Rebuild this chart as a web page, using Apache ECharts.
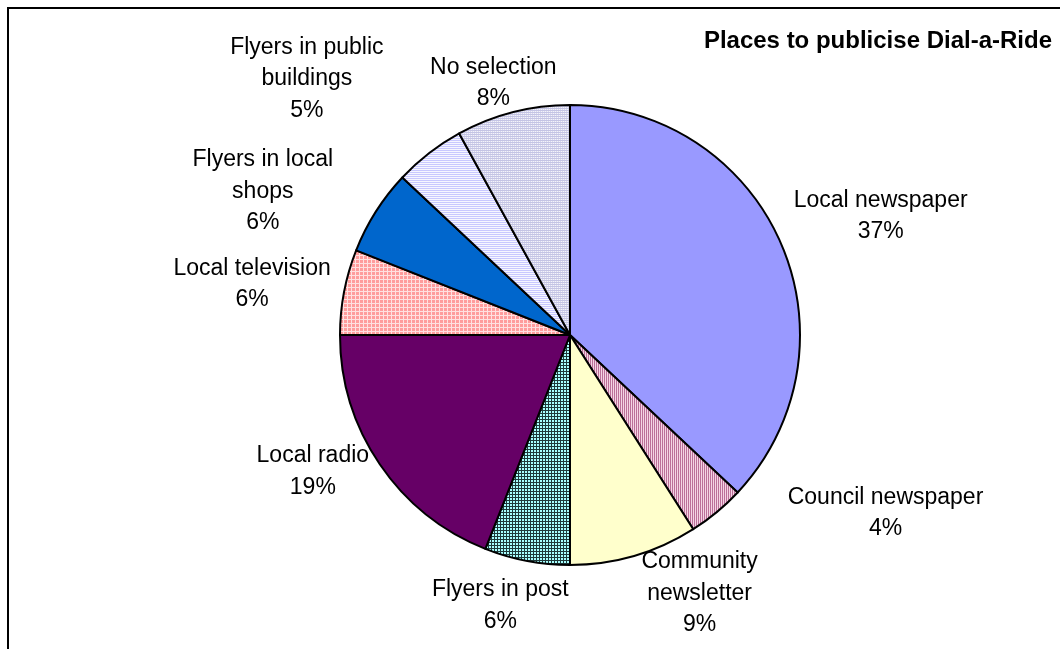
<!DOCTYPE html>
<html>
<head>
<meta charset="utf-8">
<script src="https://cdn.jsdelivr.net/npm/echarts@6/dist/echarts.min.js"></script>
<style>
  html, body { margin: 0; padding: 0; background: #fff; overflow: hidden; }
  #frame { position: absolute; left: 7px; top: 7px; width: 1060px; height: 660px;
           border-left: 2px solid #000; border-top: 2px solid #000; }
  #chart { position: absolute; left: 0; top: 0; width: 1060px; height: 649px; }
</style>
</head>
<body>
<div id="frame"></div>
<div id="chart"></div>
<script>
// Survey answers, percent of responses, clockwise from 12 o'clock
const categories = [
  'Local newspaper',
  'Council newspaper',
  'Community\nnewsletter',
  'Flyers in post',
  'Local radio',
  'Local television',
  'Flyers in local\nshops',
  'Flyers in public\nbuildings',
  'No selection'
];
const shares = [37, 4, 9, 6, 19, 6, 6, 5, 8];

// Small repeating fills in the style of office chart patterns
function pattern(w, h, draw) {
  const c = document.createElement('canvas');
  c.width = w; c.height = h;
  draw(c.getContext('2d'));
  return { image: c, repeat: 'repeat' };
}
const fills = [
  '#9999ff',
  pattern(2, 1, g => { g.fillStyle = '#bb6f99'; g.fillRect(0, 0, 1, 1); g.fillStyle = '#f4d4e4'; g.fillRect(1, 0, 1, 1); }),
  '#ffffcc',
  pattern(3, 3, g => { g.fillStyle = '#1f3a3a'; g.fillRect(0, 0, 3, 3); g.fillStyle = '#a8ffff'; g.fillRect(0, 0, 2, 2); }),
  '#660066',
  pattern(4, 4, g => { g.fillStyle = '#ff9c9c'; g.fillRect(0, 0, 4, 4); g.fillStyle = '#ffe0e0'; g.fillRect(3, 0, 1, 4); g.fillRect(0, 3, 4, 1); }),
  '#0066cc',
  pattern(1, 2, g => { g.fillStyle = '#c8c8ff'; g.fillRect(0, 0, 1, 1); g.fillStyle = '#f6f6ff'; g.fillRect(0, 1, 1, 1); }),
  pattern(2, 2, g => { g.fillStyle = '#f4f4fa'; g.fillRect(0, 0, 2, 2); g.fillStyle = '#c4c4e4'; g.fillRect(0, 0, 2, 1); g.fillStyle = '#d8d8ee'; g.fillRect(0, 1, 1, 1); })
];

const CX = 570, CY = 335, R = 230;
// label placement: just outside the rim along each slice's middle, with small hand nudges
const labelNudge = [[6, -9], [97, -35], [45, -22], [-11, -1], [-8, -19], [0, 1], [-41, 13], [-66, -25], [0, 16]];

const total = shares.reduce((a, b) => a + b, 0);
const midAngles = [];
let acc = 0;
shares.forEach(v => { midAngles.push((acc + v / 2) / total * Math.PI * 2); acc += v; });

const chart = echarts.init(document.getElementById('chart'));
chart.setOption({
  animation: false,
  title: {
    text: 'Places to publicise Dial-a-Ride',
    right: 3, top: 24,
    textStyle: { fontFamily: 'Liberation Sans, Arial, sans-serif', fontSize: 24, fontWeight: 'bold', color: '#000' }
  },
  series: [{
    type: 'pie',
    center: [CX, CY],
    radius: R,
    startAngle: 90,
    clockwise: true,
    data: categories.map((name, i) => ({ name, value: shares[i], itemStyle: { color: fills[i] } })),
    itemStyle: { borderColor: '#000', borderWidth: 2 },
    emphasis: { disabled: true },
    labelLine: { show: false },
    label: {
      show: true,
      position: 'outside',
      formatter: p => p.name + '\n' + p.value + '%',
      fontFamily: 'Liberation Sans, Arial, sans-serif',
      fontSize: 23,
      lineHeight: 31.5,
      color: '#000',
      align: 'center'
    },
    labelLayout: p => {
      const a = midAngles[p.dataIndex];
      const dx = Math.sin(a), dy = -Math.cos(a);
      const w = p.labelRect.width, h = p.labelRect.height;
      const n = labelNudge[p.dataIndex];
      return {
        x: CX + (R + 15) * dx + dx * w / 2 + n[0],
        y: CY + (R + 15) * dy + dy * h / 2 + n[1],
        align: 'center',
        verticalAlign: 'middle'
      };
    }
  }]
});
</script>
</body>
</html>
